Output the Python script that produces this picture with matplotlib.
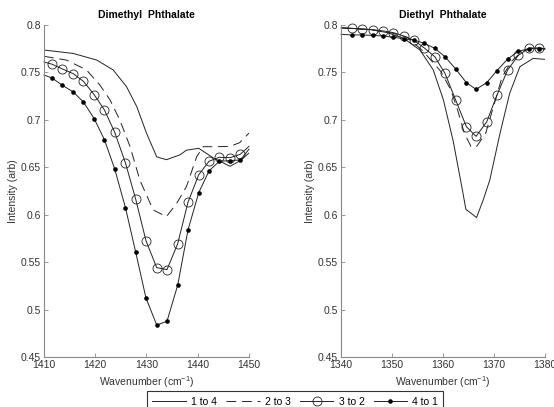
import matplotlib
matplotlib.use("Agg")
import matplotlib.pyplot as plt
from matplotlib.ticker import FormatStrFormatter

plt.rcParams['font.family'] = ['Liberation Sans', 'DejaVu Sans']
plt.rcParams['mathtext.default'] = 'regular'

labels = ["1 to 4", "2 to 3", "3 to 2", "4 to 1"]

# Dimethyl phthalate
dm_mark_x = [1410, 1411.6, 1413.6, 1415.7, 1417.7, 1419.8, 1421.8, 1423.8, 1425.9, 1427.9,
             1429.9, 1432.0, 1434.0, 1436.1, 1438.1, 1440.2, 1442.2, 1444.2, 1446.3, 1448.3, 1450]
dm_32 = [0.761, 0.7586, 0.7536, 0.7487, 0.7406, 0.7265, 0.7104, 0.6869, 0.6545, 0.6163,
         0.5726, 0.5442, 0.5421, 0.5695, 0.6131, 0.6422, 0.6563, 0.6605, 0.6601, 0.6637, 0.672]
dm_41 = [0.7473, 0.744, 0.7364, 0.7294, 0.7188, 0.7012, 0.679, 0.6482, 0.6074, 0.5604,
         0.5122, 0.4837, 0.4876, 0.5259, 0.5839, 0.6233, 0.6461, 0.6563, 0.657, 0.6577, 0.669]
dm_14_x = [1410, 1415.7, 1420.3, 1423.5, 1426.1, 1428.1, 1430.0, 1432.0, 1433.9, 1436.5,
           1437.8, 1440.2, 1443.0, 1446.3, 1448.3, 1450]
dm_14 = [0.7736, 0.770, 0.763, 0.7526, 0.735, 0.714, 0.686, 0.661, 0.658, 0.663,
         0.668, 0.670, 0.660, 0.651, 0.657, 0.665]
dm_23_x = [1410, 1414.4, 1418.3, 1420.9, 1422.9, 1424.8, 1426.8, 1428.7, 1431.3, 1433.9,
           1435.9, 1437.8, 1439.8, 1441.1, 1443.7, 1446.3, 1448.2, 1450]
dm_23 = [0.767, 0.763, 0.7526, 0.7367, 0.7209, 0.6998, 0.6717, 0.6366, 0.605, 0.598,
         0.612, 0.6296, 0.6612, 0.6717, 0.6717, 0.672, 0.676, 0.686]

# Diethyl phthalate
de_mark_x = [1340.0, 1342.1, 1344.2, 1346.2, 1348.3, 1350.3, 1352.3, 1354.3, 1356.3, 1358.4,
             1360.4, 1362.5, 1364.6, 1366.5, 1368.6, 1370.6, 1372.7, 1374.8, 1376.8, 1378.9, 1380]
de_32 = [0.797, 0.7965, 0.7958, 0.795, 0.7937, 0.7919, 0.7884, 0.7838, 0.776, 0.7666,
         0.749, 0.7209, 0.6928, 0.6826, 0.698, 0.726, 0.7526, 0.768, 0.7753, 0.776, 0.775]
de_41 = [0.7902, 0.7895, 0.7895, 0.789, 0.7884, 0.787, 0.7856, 0.7842, 0.7807, 0.7754,
         0.7666, 0.7536, 0.7392, 0.7322, 0.7392, 0.7519, 0.7641, 0.7722, 0.775, 0.775, 0.7745]
de_14_x = [1340, 1346, 1349, 1352.2, 1355.5, 1358.1, 1360.1, 1362.0, 1363.7, 1364.5,
           1366.6, 1367.9, 1369.2, 1371.2, 1373.1, 1375.1, 1377.7, 1380]
de_14 = [0.797, 0.795, 0.792, 0.7863, 0.7736, 0.7526, 0.721, 0.678, 0.6296, 0.6057,
         0.597, 0.6155, 0.6366, 0.6858, 0.728, 0.756, 0.7648, 0.7638]
de_23_x = [1340, 1346, 1350, 1353, 1356, 1359.6, 1361.6, 1362.9, 1364.2, 1365.5,
           1366.5, 1368.4, 1370.3, 1371.6, 1373.5, 1375.5, 1377.5, 1380]
de_23 = [0.797, 0.795, 0.7915, 0.787, 0.773, 0.751, 0.731, 0.710, 0.686, 0.672,
         0.671, 0.686, 0.721, 0.745, 0.762, 0.772, 0.776, 0.775]

fig = plt.figure(figsize=(5.54, 4.07), dpi=100)
ax1 = fig.add_axes([0.0794, 0.1229, 0.370, 0.8157])
ax2 = fig.add_axes([0.6155, 0.1229, 0.368, 0.8157])

lc = '#222222'
lw = 0.7


def draw(ax, x14, y14, x23, y23, xm, y32, y41, title, xlim, xticks):
    h1, = ax.plot(x14, y14, color=lc, lw=lw)
    h2, = ax.plot(x23, y23, color=lc, lw=lw, linestyle=(0, (10, 6)))
    h3, = ax.plot(xm, y32, color=lc, lw=lw, marker='o', ms=6.5, mfc='none',
                  mec=lc, mew=0.6, markevery=slice(1, -1), clip_on=False)
    h4, = ax.plot(xm, y41, color=lc, lw=lw, marker='o', ms=2.3, mfc='black',
                  mec='black', markevery=slice(1, -1), clip_on=False)
    ax.set_xlim(xlim)
    ax.set_ylim(0.45, 0.8)
    ax.set_xticks(xticks)
    ax.set_yticks([0.45, 0.5, 0.55, 0.6, 0.65, 0.7, 0.75, 0.8])
    ax.yaxis.set_major_formatter(FormatStrFormatter('%g'))
    for s in ['top', 'right']:
        ax.spines[s].set_visible(False)
    for s in ['left', 'bottom']:
        ax.spines[s].set_color('#888888')
        ax.spines[s].set_linewidth(0.8)
    ax.tick_params(direction='in', length=3, width=0.6, color='#888888',
                   labelsize=7.5, labelcolor='#333333', pad=2)
    ax.set_title(title, fontsize=7.5, fontweight='bold', pad=5)
    ax.set_xlabel('Wavenumber (cm$^{-1}$)', fontsize=7.5, color='#333333', labelpad=3)
    ax.set_ylabel('Intensity (arb)', fontsize=7.5, color='#333333', labelpad=2)
    return [h1, h2, h3, h4]


handles = draw(ax1, dm_14_x, dm_14, dm_23_x, dm_23, dm_mark_x, dm_32, dm_41,
               'Dimethyl  Phthalate', (1410, 1450), [1410, 1420, 1430, 1440, 1450])
draw(ax2, de_14_x, de_14, de_23_x, de_23, de_mark_x, de_32, de_41,
     'Diethyl  Phthalate', (1340, 1380), [1340, 1350, 1360, 1370, 1380])

leg = fig.legend(handles, labels, loc='center', bbox_to_anchor=(0.533, 0.0135),
                 ncol=4, fontsize=7.5, frameon=True, fancybox=False,
                 handlelength=3.2, columnspacing=0.9, handletextpad=0.5,
                 borderpad=0.5)
leg.get_frame().set_edgecolor('black')
leg.get_frame().set_linewidth(0.8)

fig.savefig('out.png', dpi=100)
